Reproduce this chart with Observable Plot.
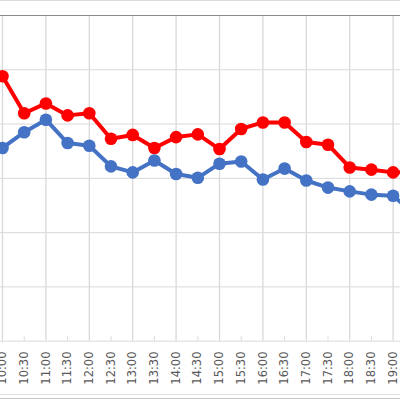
<!DOCTYPE html>
<html>
<head>
<meta charset="utf-8">
<script src="https://cdn.jsdelivr.net/npm/d3@7"></script>
<script src="https://cdn.jsdelivr.net/npm/@observablehq/plot@0.6"></script>
<style>
  html, body { margin: 0; padding: 0; background: #fff; }
  #wrap { position: relative; width: 400px; height: 400px; overflow: hidden; background: #fff; }
  #wrap svg { position: absolute; left: 0; top: 0; overflow: hidden; }
  .edge { position: absolute; left: 0; width: 400px; height: 1px; }
</style>
</head>
<body>
<div id="wrap">
  <div class="edge" style="top:0;background:#dcdcdc"></div>
  <div class="edge" style="top:394px;background:#e0e0e0"></div>
  <div class="edge" style="top:398px;background:#c8c8c8"></div>
</div>
<script>
const times = ["10:00","10:30","11:00","11:30","12:00","12:30","13:00","13:30","14:00","14:30",
               "15:00","15:30","16:00","16:30","17:00","17:30","18:00","18:30","19:00","19:30"];
const redValues  = [48.8, 42.0, 43.8, 41.6, 42.0, 37.3, 38.0, 35.6, 37.6, 38.1,
                    35.4, 39.1, 40.3, 40.3, 36.7, 36.2, 32.0, 31.6, 31.1, 31.2];
const blueValues = [35.6, 38.5, 40.8, 36.5, 36.0, 32.2, 31.1, 33.3, 30.8, 30.1,
                    32.7, 33.1, 29.8, 31.8, 29.6, 28.3, 27.6, 27.0, 26.8, 23.4];
const tickLabels = times.slice(0, 19);
const hourTicks = times.filter(t => t.endsWith(":00"));
const halfTicks = times.filter(t => t.endsWith(":30"));
const yGrid = [0, 10, 20, 30, 40, 50];

const data = times.map((t, i) => ({time: t, red: redValues[i], blue: blueValues[i]}));

const chart = Plot.plot({
  width: 400,
  height: 400,
  marginTop: 15,
  marginBottom: 59,
  marginLeft: 0,
  marginRight: 0,
  style: {background: "#fff"},
  x: {type: "point", domain: times, range: [2, 2 + 21.7 * 19], padding: 0, round: false},
  y: {domain: [0, 60], range: [340.7, 15], axis: null},
  marks: [
    Plot.ruleY(yGrid, {stroke: "#d9d9d9", strokeWidth: 1}),
    Plot.ruleX(hourTicks, {x: d => d, y1: 0, y2: 60, stroke: "#d9d9d9", strokeWidth: 1.3}),
    Plot.ruleX(halfTicks, {x: d => d, y1: 0, y2: 0.8, stroke: "#d9d9d9", strokeWidth: 1}),
    Plot.ruleY([60], {stroke: "#8c8c8c", strokeWidth: 1.2}),
    Plot.axisX(tickLabels, {tickSize: 0, tickPadding: 10, tickRotate: -90, fontSize: 11.5,
                fontFamily: "DejaVu Sans", fill: "#595959", label: null}),
    Plot.line(data, {x: "time", y: "red", stroke: "#ff0000", strokeWidth: 4, clip: true}),
    Plot.dot(data, {x: "time", y: "red", fill: "#ff0000", stroke: "none", r: 6.3, clip: true}),
    Plot.line(data, {x: "time", y: "blue", stroke: "#4472c4", strokeWidth: 4, clip: true}),
    Plot.dot(data, {x: "time", y: "blue", fill: "#4472c4", stroke: "none", r: 6.3, clip: true})
  ]
});
document.getElementById("wrap").prepend(chart);
</script>
</body>
</html>
